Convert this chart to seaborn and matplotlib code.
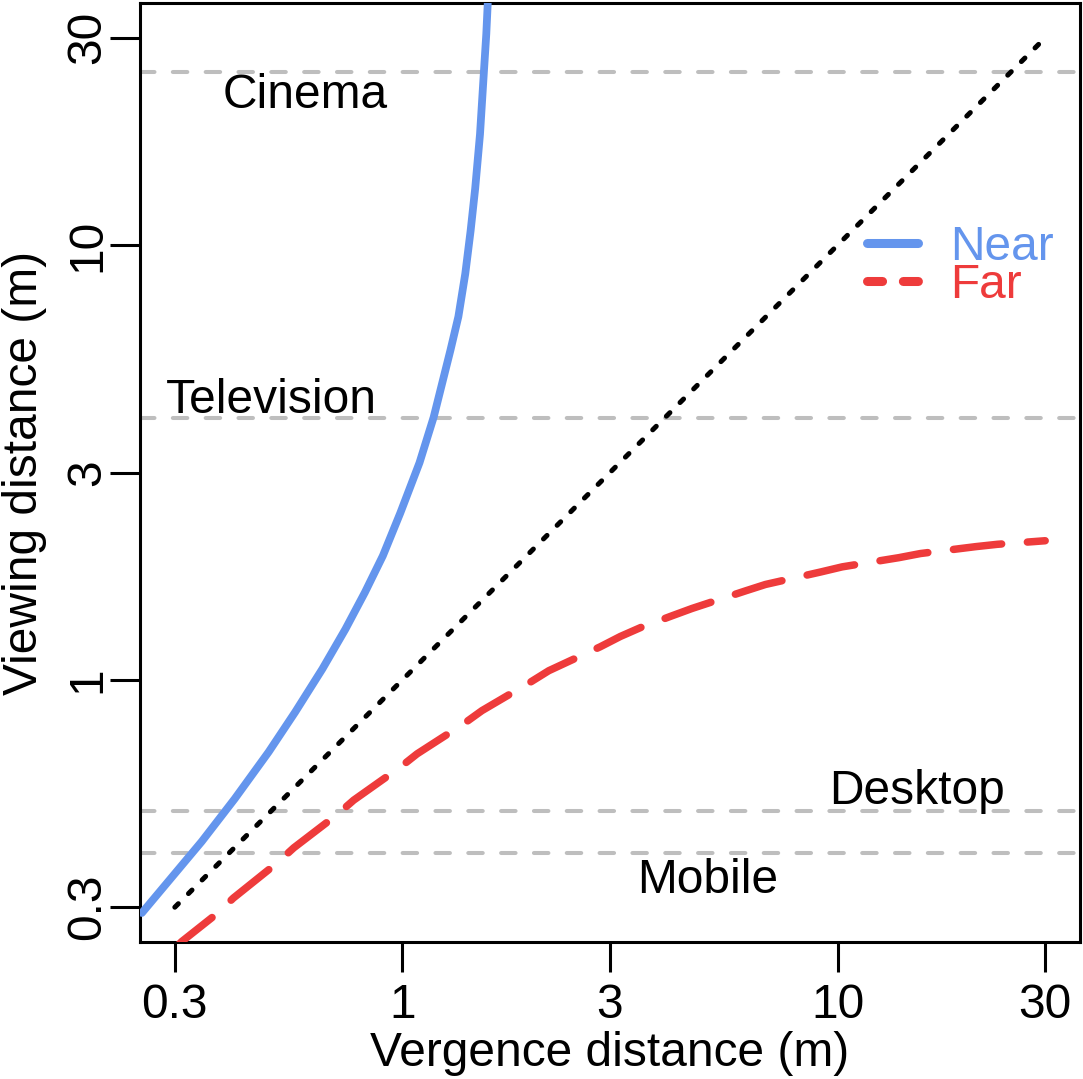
import matplotlib
matplotlib.use("Agg")
import matplotlib.pyplot as plt
from matplotlib.lines import Line2D
import seaborn as sns

# zone of comfort: vergence distance (m) against viewing distance (m)
near_vergence = [0.252, 0.292, 0.346, 0.412, 0.493, 0.567, 0.655, 0.740, 0.820,
                 0.902, 0.989, 1.095, 1.18, 1.29, 1.345, 1.395, 1.435, 1.47,
                 1.508, 1.54, 1.559, 1.571]
near_viewing = [0.291, 0.347, 0.425, 0.533, 0.683, 0.843, 1.06, 1.309, 1.589,
                1.93, 2.42, 3.16, 4.02, 5.74, 6.85, 8.6, 10.8, 13.5,
                18.0, 25.2, 30.6, 36.0]

far_vergence = [0.300, 0.311, 0.375, 0.409, 0.515, 0.563, 0.708, 0.773, 0.989,
                1.081, 1.384, 1.524, 1.968, 2.17, 2.85, 3.17, 3.53, 4.17, 4.63,
                6.15, 6.83, 9.14, 10.25, 13.84, 15.5, 20.8, 23.3, 30.0]
far_viewing = [0.241, 0.250, 0.290, 0.315, 0.379, 0.411, 0.490, 0.529, 0.630,
               0.676, 0.793, 0.850, 0.988, 1.050, 1.192, 1.259, 1.32, 1.405, 1.46,
               1.603, 1.658, 1.771, 1.820, 1.911, 1.953, 2.026, 2.051, 2.09]

diag = [0.3, 30]

# typical viewing distances
screens = ["Cinema", "Television", "Desktop", "Mobile"]
screen_dist = [25, 4, 0.5, 0.4]
label_x = [0.597, 0.501, 15.2, 5.03]
label_y = [20.7, 4.12, 0.519, 0.323]

ticks = [0.3, 1, 3, 10, 30]
tick_labels = ["0.3", "1", "3", "10", "30"]

blue = "#6495ED"
red = "#EE3B3B"
grey = "#BEBEBE"

sns.set_style("ticks")
plt.rcParams["font.family"] = ["Liberation Sans", "DejaVu Sans"]
for k in ["text.color", "axes.labelcolor", "xtick.color", "ytick.color", "axes.edgecolor"]:
    plt.rcParams[k] = "black"
fs = 34.5

fig = plt.figure(figsize=(10.83, 10.79), dpi=100)
ax = fig.add_axes([140 / 1083, 137 / 1079, 940 / 1083, 939 / 1079])
ax.set_xscale("log")
ax.set_yscale("log")

# R-style 4% padding on the log range
pad = 100 ** 0.04
ax.set_xlim(0.3 / pad, 30 * pad)
ax.set_ylim(0.3 / pad, 30 * pad)

for d in screen_dist:
    ax.axhline(d, color=grey, lw=2.9, linestyle=(0, (3.6, 4.55)),
               dash_capstyle="round", zorder=1)

for name, x, y in zip(screens, label_x, label_y):
    ax.text(x, y, name, ha="center", va="baseline", fontsize=fs, zorder=2)

sns.lineplot(x=diag, y=diag, ax=ax, color="black", lw=3.6,
             linestyle=(0, (1, 2.86)), dash_capstyle="round", zorder=3)
sns.lineplot(x=near_vergence, y=near_viewing, ax=ax, color=blue, lw=5.6,
             solid_capstyle="round", solid_joinstyle="round", zorder=4, sort=False)
sns.lineplot(x=far_vergence, y=far_viewing, ax=ax, color=red, lw=5.4,
             linestyle=(0, (6.47, 3.44)), dash_capstyle="round", zorder=4, sort=False)

ax.set_xticks(ticks)
ax.set_xticklabels(tick_labels)
ax.set_yticks(ticks)
ax.set_yticklabels(tick_labels)
ax.minorticks_off()
ax.tick_params(axis="both", length=21.6, width=2.2, labelsize=fs, color="black")
ax.tick_params(axis="x", pad=7.9)
ax.tick_params(axis="y", pad=0, labelrotation=90)
for lab in ax.get_yticklabels():
    lab.set_va("center")

for s in ax.spines.values():
    s.set_linewidth(2.2)

ax.set_xlabel("Vergence distance (m)", fontsize=fs, labelpad=2)
ax.set_ylabel("Viewing distance (m)", fontsize=fs, labelpad=13)

handles = [
    Line2D([], [], color=blue, lw=6.5, solid_capstyle="round"),
    Line2D([], [], color=red, lw=6.5, linestyle=(0, (1.67, 2.3)), dash_capstyle="round"),
]
ax.legend(handles, ["Near", "Far"], loc="upper left", bbox_to_anchor=(0.7734, 0.7637),
          frameon=False, fontsize=fs, labelcolor="linecolor", handlelength=1.06,
          handletextpad=0.68, labelspacing=-0.14, borderpad=0, borderaxespad=0)

fig.savefig("out.png", dpi=100)
